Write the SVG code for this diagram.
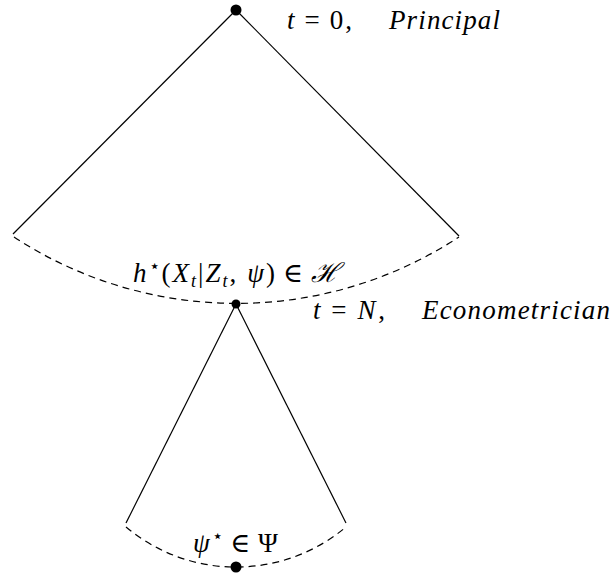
<svg xmlns="http://www.w3.org/2000/svg" width="611" height="579" viewBox="0 0 611 579">
<style>
.e{stroke:#000;stroke-width:1.2;fill:none}
.d{stroke:#000;stroke-width:1.2;fill:none;stroke-dasharray:7,5}
text{font-family:"Liberation Serif","DejaVu Serif",serif;font-size:27px;fill:#000}
.i{font-style:italic}
.s{font-size:18px}
</style>
<rect width="611" height="579" fill="#fff"/>
<g id="connectors">
<line class="e" x1="236" y1="10" x2="13" y2="234"/>
<line class="e" x1="236" y1="10" x2="459" y2="236"/>
<path class="d" d="M14,237 A406,406 0 0 0 459,237"/>
<line class="e" x1="236" y1="304" x2="126" y2="523"/>
<line class="e" x1="236" y1="304" x2="346" y2="523"/>
<path class="d" d="M126,527 A171,171 0 0 0 346,527"/>
</g>
<g id="root">
<circle cx="236" cy="10" r="5.5" fill="#000"/>
<text x="287" y="29" textLength="65" lengthAdjust="spacing"><tspan class="i">t</tspan><tspan dx="8">=</tspan><tspan dx="8">0,</tspan></text>
<text x="389" y="29" class="i" textLength="111" lengthAdjust="spacing">Principal</text>
</g>
<g id="econometrician">
<circle cx="236" cy="304" r="4.5" fill="#000"/>
<text x="133" y="282" textLength="207" lengthAdjust="spacing"><tspan class="i">h</tspan><tspan class="s" dy="-10">⋆</tspan><tspan dy="10">(</tspan><tspan class="i">X</tspan><tspan class="i s" dy="5">t</tspan><tspan dy="-5">|</tspan><tspan class="i">Z</tspan><tspan class="i s" dy="5">t</tspan><tspan dy="-5">, </tspan><tspan class="i">ψ</tspan>)<tspan dx="6">∈</tspan><tspan dx="6" class="i" font-family="DejaVu Serif">ℋ</tspan></text>
<text x="313" y="319" textLength="72" lengthAdjust="spacing"><tspan class="i">t</tspan><tspan dx="8">=</tspan><tspan dx="8" class="i">N</tspan>,</text>
<text x="422" y="319" class="i" textLength="188" lengthAdjust="spacing">Econometrician</text>
</g>
<g id="leaf">
<circle cx="236" cy="567" r="5.5" fill="#000"/>
<text x="193" y="552" textLength="85" lengthAdjust="spacing"><tspan class="i">ψ</tspan><tspan class="s" dy="-10">⋆</tspan><tspan dy="10" dx="6">∈</tspan><tspan dx="6">Ψ</tspan></text>
</g>
</svg>
